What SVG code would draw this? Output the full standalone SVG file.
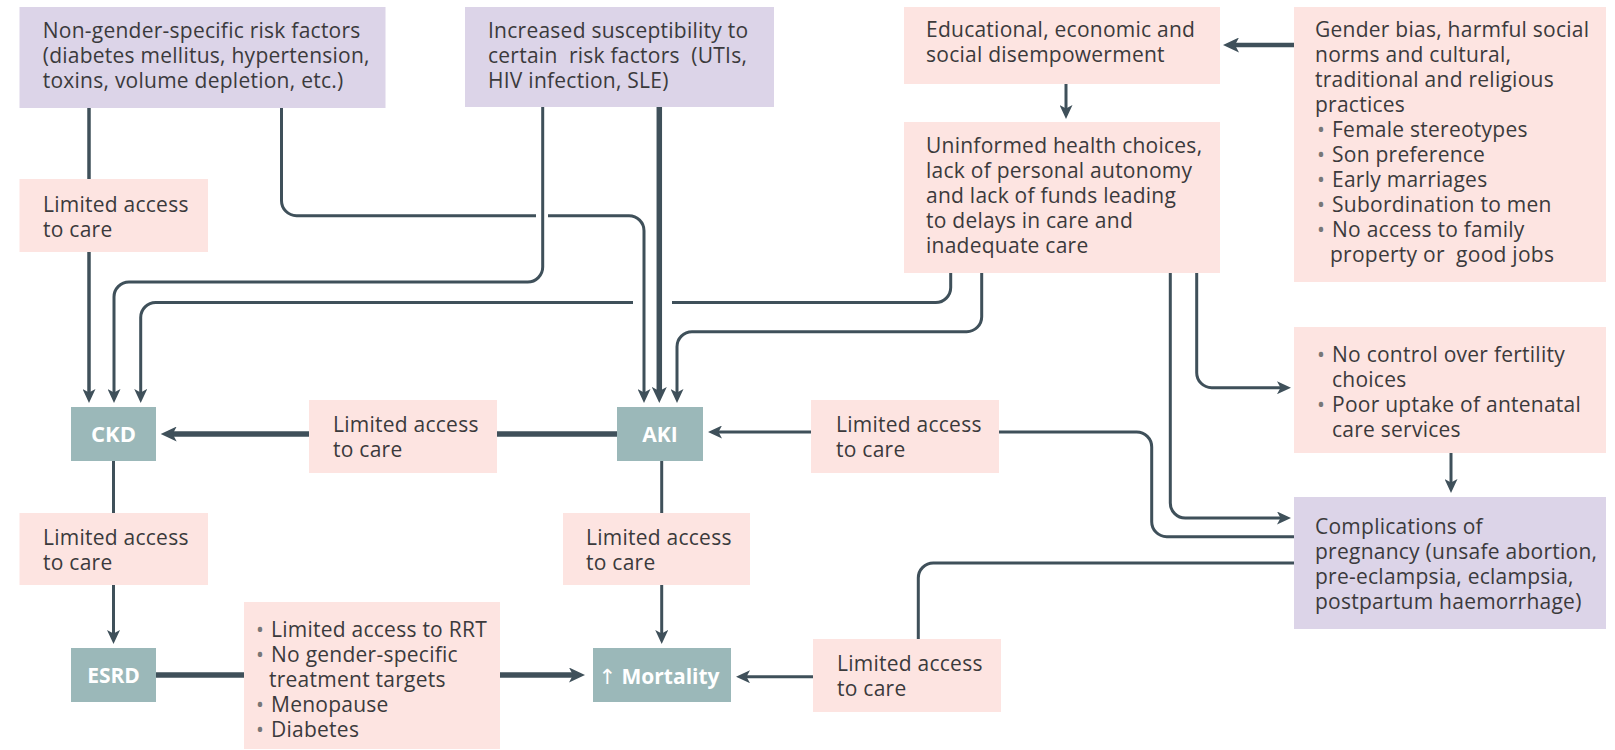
<svg xmlns="http://www.w3.org/2000/svg" width="1615" height="750" viewBox="0 0 1615 750">
<defs>
<style>
.t{font-family:"Open Sans","Noto Sans","Liberation Sans",sans-serif;font-size:21px;letter-spacing:0.25px;fill:#3b3a3c;white-space:pre}
.b{fill:#777}
.k{font-family:"Open Sans","Noto Sans","Liberation Sans",sans-serif;font-size:21px;font-weight:bold;fill:#ffffff;text-anchor:middle}
.pu{fill:#dcd4e8}
.pk{fill:#fde4e1}
.tl{fill:#9bb8b9}
.ln{fill:none;stroke:#3f505a;stroke-width:3}
.th{fill:none;stroke:#3f505a;stroke-width:5.5}
</style>
<marker id="a" markerUnits="userSpaceOnUse" markerWidth="15" markerHeight="13" refX="6" refY="6.5" orient="auto">
<path d="M0,0 L14,6.5 L0,13 L3.5,6.5 Z" fill="#3f505a"/>
</marker>
<marker id="A" markerUnits="userSpaceOnUse" markerWidth="17" markerHeight="15" refX="7" refY="7.5" orient="auto">
<path d="M0,0 L16,7.5 L0,15 L4,7.5 Z" fill="#3f505a"/>
</marker>
</defs>
<rect width="1615" height="750" fill="#ffffff"/>

<g id="connectors">
<path class="ln" style="stroke-width:3.5" d="M89,108 V179"/>
<path class="ln" style="stroke-width:3.5" d="M89,252 V395" marker-end="url(#a)"/>
<path class="ln" d="M281.5,108 V200.7 A15,15 0 0 0 296.5,215.7 H536"/>
<path class="ln" d="M548,215.7 H629 A15,15 0 0 1 644,230.7 V395" marker-end="url(#a)"/>
<path class="ln" d="M542.7,107 V267 A15,15 0 0 1 527.7,282 H129 A15,15 0 0 0 114,297 V395" marker-end="url(#a)"/>
<path class="th" d="M659.3,107 V394" marker-end="url(#A)"/>
<path class="ln" d="M950.7,273 V287.5 A15,15 0 0 1 935.7,302.5 H672"/>
<path class="ln" d="M633,302.5 H155.7 A15,15 0 0 0 140.7,317.5 V395" marker-end="url(#a)"/>
<path class="ln" d="M981.7,273 V316.7 A15,15 0 0 1 966.7,331.7 H692 A15,15 0 0 0 677,346.7 V395" marker-end="url(#a)"/>
<path class="ln" d="M1170.3,273 V503 A15,15 0 0 0 1185.3,518 H1283" marker-end="url(#a)"/>
<path class="ln" d="M1196.7,273 V372.7 A15,15 0 0 0 1211.7,387.7 H1283" marker-end="url(#a)"/>
<path class="ln" d="M1066,84 V111" marker-end="url(#a)"/>
<path class="th" style="stroke-width:4.5" d="M1294,45 H1232" marker-end="url(#A)"/>
<path class="ln" d="M1451,453 V485" marker-end="url(#a)"/>
<path class="ln" d="M1294,536.7 H1166.7 A15,15 0 0 1 1151.7,521.7 V447 A15,15 0 0 0 1136.7,432 H999"/>
<path class="ln" d="M811,432 H716" marker-end="url(#a)"/>
<path class="th" d="M617,434 H497"/>
<path class="th" d="M309,434 H169.7" marker-end="url(#A)"/>
<path class="ln" d="M113.5,461 V513"/>
<path class="ln" d="M113.5,585 V636" marker-end="url(#a)"/>
<path class="ln" d="M661.7,461 V513"/>
<path class="ln" d="M661.7,585 V636" marker-end="url(#a)"/>
<path class="th" d="M156,675 H244"/>
<path class="th" d="M500,675 H576" marker-end="url(#A)"/>
<path class="ln" d="M1294,563 H933.3 A15,15 0 0 0 918.3,578 V639"/>
<path class="ln" d="M813,676.7 H744" marker-end="url(#a)"/>
</g>

<g id="nongender">
<rect class="pu" x="19.5" y="7" width="366" height="101"/>
<text class="t" x="42.7" y="38">Non-gender-specific risk factors</text>
<text class="t" x="42.7" y="63">(diabetes mellitus, hypertension,</text>
<text class="t" x="42.7" y="88">toxins, volume depletion, etc.)</text>
</g>

<g id="susceptibility">
<rect class="pu" x="465" y="7" width="309" height="100"/>
<text class="t" x="488" y="38" xml:space="preserve">Increased susceptibility to</text>
<text class="t" x="488" y="63" xml:space="preserve">certain  risk factors  (UTIs,</text>
<text class="t" x="488" y="88">HIV infection, SLE)</text>
</g>

<g id="disempowerment">
<rect class="pk" x="904" y="7" width="316" height="77"/>
<text class="t" x="926" y="37">Educational, economic and</text>
<text class="t" x="926" y="62">social disempowerment</text>
</g>

<g id="genderbias">
<rect class="pk" x="1294" y="7" width="312" height="275"/>
<text class="t" x="1315" y="37">Gender bias, harmful social</text>
<text class="t" x="1315" y="62">norms and cultural,</text>
<text class="t" x="1315" y="87">traditional and religious</text>
<text class="t" x="1315" y="112">practices</text>
<text class="t b" x="1317" y="137">•</text><text class="t" x="1332" y="137">Female stereotypes</text>
<text class="t b" x="1317" y="162">•</text><text class="t" x="1332" y="162">Son preference</text>
<text class="t b" x="1317" y="187">•</text><text class="t" x="1332" y="187">Early marriages</text>
<text class="t b" x="1317" y="212">•</text><text class="t" x="1332" y="212">Subordination to men</text>
<text class="t b" x="1317" y="237">•</text><text class="t" x="1332" y="237">No access to family</text>
<text class="t" x="1330" y="262" xml:space="preserve">property or  good jobs</text>
</g>

<g id="uninformed">
<rect class="pk" x="904" y="122" width="316" height="151"/>
<text class="t" x="926" y="153">Uninformed health choices,</text>
<text class="t" x="926" y="178">lack of personal autonomy</text>
<text class="t" x="926" y="203">and lack of funds leading</text>
<text class="t" x="926" y="228">to delays in care and</text>
<text class="t" x="926" y="253">inadequate care</text>
</g>

<g id="fertility">
<rect class="pk" x="1294" y="327" width="312" height="126"/>
<text class="t b" x="1317" y="362">•</text><text class="t" x="1332" y="362">No control over fertility</text>
<text class="t" x="1332" y="387">choices</text>
<text class="t b" x="1317" y="412">•</text><text class="t" x="1332" y="412">Poor uptake of antenatal</text>
<text class="t" x="1332" y="437">care services</text>
</g>

<g id="complications">
<rect class="pu" x="1294" y="497" width="312" height="132"/>
<text class="t" x="1315" y="534">Complications of</text>
<text class="t" x="1315" y="559">pregnancy (unsafe abortion,</text>
<text class="t" x="1315" y="584">pre-eclampsia, eclampsia,</text>
<text class="t" x="1315" y="609">postpartum haemorrhage)</text>
</g>

<g id="limited1">
<rect class="pk" x="19.5" y="179" width="188.5" height="73"/>
<text class="t" x="43" y="212">Limited access</text>
<text class="t" x="43" y="237">to care</text>
</g>

<g id="limited2">
<rect class="pk" x="309" y="400" width="188" height="73"/>
<text class="t" x="333" y="432">Limited access</text>
<text class="t" x="333" y="457">to care</text>
</g>

<g id="limited3">
<rect class="pk" x="811" y="400" width="188" height="73"/>
<text class="t" x="836" y="432">Limited access</text>
<text class="t" x="836" y="457">to care</text>
</g>

<g id="limited4">
<rect class="pk" x="19.5" y="513" width="188.5" height="72"/>
<text class="t" x="43" y="545">Limited access</text>
<text class="t" x="43" y="570">to care</text>
</g>

<g id="limited5">
<rect class="pk" x="563" y="513" width="187" height="72"/>
<text class="t" x="586" y="545">Limited access</text>
<text class="t" x="586" y="570">to care</text>
</g>

<g id="limited6">
<rect class="pk" x="813" y="639" width="188" height="73"/>
<text class="t" x="837" y="671">Limited access</text>
<text class="t" x="837" y="696">to care</text>
</g>

<g id="rrt">
<rect class="pk" x="244" y="602" width="256" height="147"/>
<text class="t b" x="256" y="637">•</text><text class="t" x="271" y="637">Limited access to RRT</text>
<text class="t b" x="256" y="662">•</text><text class="t" x="271" y="662">No gender-specific</text>
<text class="t" x="269" y="687">treatment targets</text>
<text class="t b" x="256" y="712">•</text><text class="t" x="271" y="712">Menopause</text>
<text class="t b" x="256" y="737">•</text><text class="t" x="271" y="737">Diabetes</text>
</g>

<g id="ckd">
<rect class="tl" x="71" y="407" width="85" height="54"/>
<text class="k" x="113.5" y="442" style="font-size:22px">CKD</text>
</g>

<g id="aki">
<rect class="tl" x="617" y="407" width="86" height="54"/>
<text class="k" x="660" y="442">AKI</text>
</g>

<g id="esrd">
<rect class="tl" x="71" y="648" width="85" height="54"/>
<text class="k" x="113.5" y="683">ESRD</text>
</g>

<g id="mortality">
<rect class="tl" x="593" y="648" width="138" height="54"/>
<text class="k" x="659" y="684"><tspan style="font-weight:normal;font-family:'DejaVu Sans',sans-serif">↑</tspan> Mortality</text>
</g>
</svg>
